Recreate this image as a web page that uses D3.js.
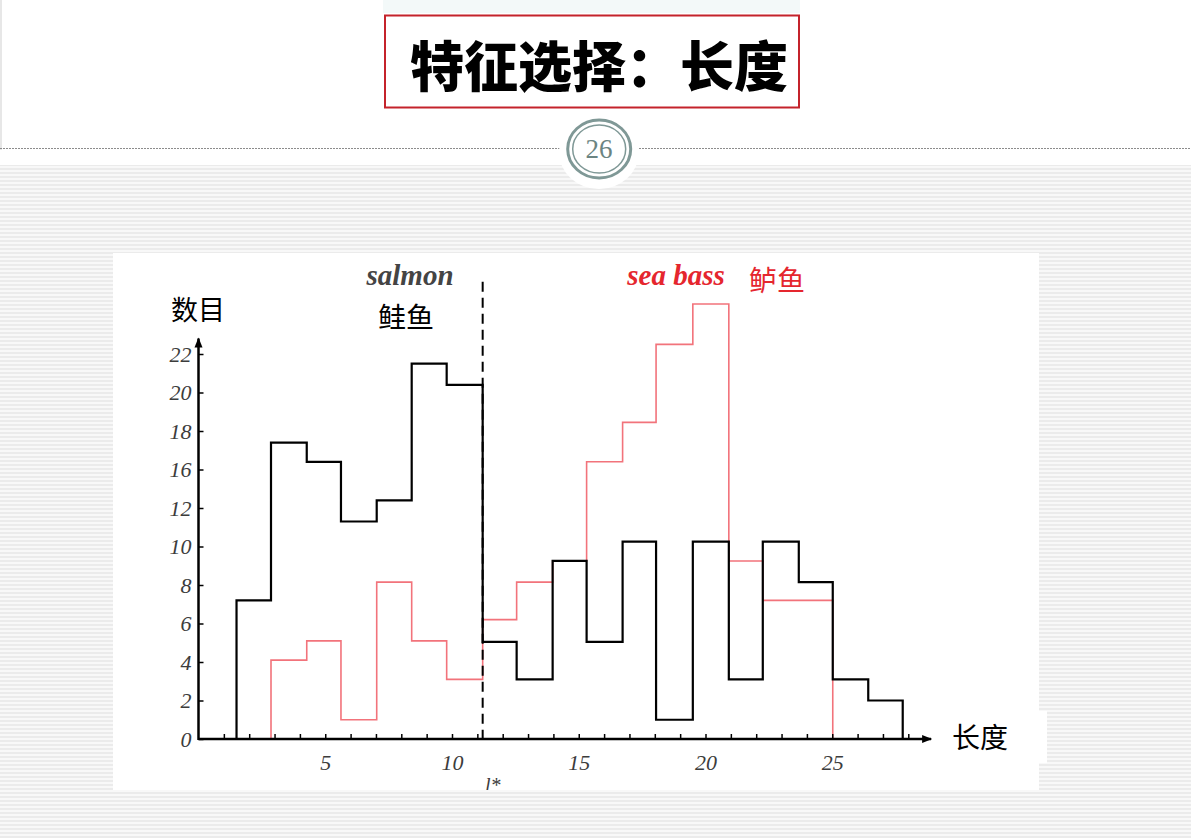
<!DOCTYPE html>
<html>
<head>
<meta charset="utf-8">
<script src="https://cdn.jsdelivr.net/npm/d3@7"></script>
<style>
body { margin: 0; background: #fff; }
</style>
</head>
<body>
<div id="slide"></div>
<script>
// bin edges and counts (length units / count units)
var binEdges = [1.5, 2.86, 4.27, 5.62, 7.03, 8.41, 9.79, 11.21, 12.55, 13.97, 15.31, 16.73, 18.05, 19.5, 20.92, 22.26, 23.68, 25.02, 26.42, 27.78];
var salmonCounts = [7.2, 15.4, 14.4, 11.3, 12.4, 19.5, 18.4, 5.05, 3.1, 9.25, 5.05, 10.25, 1.0, 10.25, 3.1, 10.25, 8.15, 3.1, 2.0];
var seaBassCounts = [null, 4.1, 5.1, 1.0, 8.15, 5.1, 3.1, 6.2, 8.15, 9.25, 14.4, 16.45, 20.5, 22.6, 9.25, 7.2, 7.2, null, null];

var xMinorTicks = [1, 2, 3, 4, 5, 6, 7, 8, 9, 10, 11, 12, 13, 14, 15, 16, 17, 18, 19, 20, 21, 22, 23, 24, 25, 26, 27, 28];
var xTickLabels = [5, 10, 15, 20, 25];
var yTickValues = [0, 2, 4, 6, 8, 10, 12, 14, 16, 18, 20];
var yTickLabels = ["0", "2", "4", "6", "8", "10", "12", "16", "18", "20", "22"];

var threshold = 11.21;   // l*
var xAxisEnd = 28.9;
var yAxisEnd = 20.8;
var dashTop = 23.75;

var W = 1191, H = 838;
var serif = "'Liberation Serif', 'DejaVu Serif', serif";
var cjk = "'Noto Sans CJK SC', sans-serif";
var redLine = "#f2737b";
var redText = "#e5262e";

var svg = d3.select("#slide")
  .append("svg")
  .attr("width", W)
  .attr("height", H);

// ---- slide background ----
var defs = svg.append("defs");
var pat = defs.append("pattern")
  .attr("id", "stripes")
  .attr("patternUnits", "userSpaceOnUse")
  .attr("width", 8)
  .attr("height", 4);
pat.append("rect").attr("width", 8).attr("height", 4).attr("fill", "#f8f8f8");
pat.append("rect").attr("width", 8).attr("height", 2).attr("fill", "#ebebeb");

svg.append("rect")
  .attr("width", W)
  .attr("height", H)
  .attr("fill", "#fff");

svg.append("rect")
  .attr("x", 0)
  .attr("y", 165)
  .attr("width", W)
  .attr("height", H - 165)
  .attr("fill", "url(#stripes)");

svg.append("line")
  .attr("x1", 1).attr("x2", 1)
  .attr("y1", 0).attr("y2", 150)
  .attr("stroke", "#cfcfcf")
  .attr("stroke-width", 1);

svg.append("rect")
  .attr("x", 383)
  .attr("y", 0)
  .attr("width", 417)
  .attr("height", 13)
  .attr("fill", "#f3f9f9");

// title box
svg.append("rect")
  .attr("x", 385)
  .attr("y", 15.5)
  .attr("width", 414)
  .attr("height", 92)
  .attr("fill", "#fff")
  .attr("stroke", "#c4232b")
  .attr("stroke-width", 2);

svg.append("text")
  .attr("x", 599)
  .attr("y", 87)
  .attr("text-anchor", "middle")
  .attr("font-family", cjk)
  .attr("font-weight", 900)
  .style("font-size", "54px")
  .attr("fill", "#000")
  .text("特征选择：长度");

// dotted divider + page badge
svg.append("line")
  .attr("x1", 0).attr("x2", W)
  .attr("y1", 148.5).attr("y2", 148.5)
  .attr("stroke", "#8c8c8c")
  .attr("stroke-width", 1)
  .attr("stroke-dasharray", "2,1");

svg.append("ellipse")
  .attr("cx", 599).attr("cy", 152)
  .attr("rx", 40).attr("ry", 37)
  .attr("fill", "#fff");

svg.append("ellipse")
  .attr("cx", 599.2).attr("cy", 149)
  .attr("rx", 31.5).attr("ry", 29)
  .attr("fill", "#fff")
  .attr("stroke", "#7f9896")
  .attr("stroke-width", 3);

svg.append("ellipse")
  .attr("cx", 599.2).attr("cy", 149)
  .attr("rx", 26.5).attr("ry", 24)
  .attr("fill", "none")
  .attr("stroke", "#7f9896")
  .attr("stroke-width", 1.5);

svg.append("text")
  .attr("x", 599)
  .attr("y", 158)
  .attr("text-anchor", "middle")
  .attr("font-family", serif)
  .style("font-size", "27px")
  .attr("fill", "#6b8482")
  .text("26");

// ---- chart panel ----
svg.append("rect")
  .attr("x", 113)
  .attr("y", 253)
  .attr("width", 926)
  .attr("height", 537)
  .attr("fill", "#fff");

svg.append("rect")
  .attr("x", 937)
  .attr("y", 711)
  .attr("width", 110)
  .attr("height", 52)
  .attr("fill", "#fff");

defs.append("clipPath")
  .attr("id", "panel-clip")
  .append("rect")
  .attr("x", 113)
  .attr("y", 253)
  .attr("width", 926)
  .attr("height", 537);

var x = d3.scaleLinear()
  .domain([0, 28])
  .range([198.5, 198.5 + 28 * 25.35]);

var y = d3.scaleLinear()
  .domain([0, 20])
  .range([739, 354]);

var g = svg.append("g")
  .attr("clip-path", "url(#panel-clip)");

function stepPoints(counts) {
  var first = counts.findIndex(function(c) { return c != null; });
  var last = counts.length - 1;
  while (counts[last] == null) last--;
  var pts = [[binEdges[first], 0]];
  for (var i = first; i <= last; i++) {
    pts.push([binEdges[i], counts[i]]);
  }
  pts.push([binEdges[last + 1], 0]);
  return pts;
}

var step = d3.line()
  .x(function(d) { return x(d[0]); })
  .y(function(d) { return y(d[1]); })
  .curve(d3.curveStepAfter);

g.append("path")
  .attr("d", step(stepPoints(seaBassCounts)))
  .attr("fill", "none")
  .attr("stroke", redLine)
  .attr("stroke-width", 1.6);

g.append("path")
  .attr("d", step(stepPoints(salmonCounts)))
  .attr("fill", "none")
  .attr("stroke", "#000")
  .attr("stroke-width", 2.2);

// decision threshold
g.append("line")
  .attr("x1", x(threshold)).attr("x2", x(threshold))
  .attr("y1", y(dashTop)).attr("y2", y(-0.35))
  .attr("stroke", "#000")
  .attr("stroke-width", 2)
  .attr("stroke-dasharray", "10,6");

// axes
var xAxis = d3.axisBottom(x)
  .tickValues(xMinorTicks)
  .tickSize(-5)
  .tickPadding(15)
  .tickFormat(function(d) { return xTickLabels.indexOf(d) >= 0 ? d : ""; });

g.append("g")
  .attr("transform", "translate(0," + y(0) + ")")
  .call(xAxis)
  .call(function(a) { a.select(".domain").remove(); })
  .call(function(a) {
    a.selectAll("line").attr("stroke", "#000").attr("stroke-width", 1.5);
    a.selectAll("text")
      .attr("font-family", serif)
      .attr("font-style", "italic")
      .style("font-size", "22px")
      .attr("fill", "#3c3c3c");
  });

var yAxis = d3.axisLeft(y)
  .tickValues(yTickValues)
  .tickSize(-5)
  .tickPadding(7)
  .tickFormat(function(d, i) { return yTickLabels[i]; });

g.append("g")
  .attr("transform", "translate(" + x(0) + ",0)")
  .call(yAxis)
  .call(function(a) { a.select(".domain").remove(); })
  .call(function(a) {
    a.selectAll("line").attr("stroke", "#000").attr("stroke-width", 1.5);
    a.selectAll("text")
      .attr("font-family", serif)
      .attr("font-style", "italic")
      .style("font-size", "22px")
      .attr("fill", "#3c3c3c");
  });

defs.append("marker")
  .attr("id", "arrow")
  .attr("viewBox", "0 0 10 10")
  .attr("refX", 9)
  .attr("refY", 5)
  .attr("markerWidth", 5)
  .attr("markerHeight", 4)
  .attr("orient", "auto")
  .attr("markerUnits", "strokeWidth")
  .append("path")
  .attr("d", "M 0 1 L 10 5 L 0 9 Z")
  .attr("fill", "#000");

svg.append("line")
  .attr("x1", x(0)).attr("x2", x(xAxisEnd))
  .attr("y1", y(0)).attr("y2", y(0))
  .attr("stroke", "#000")
  .attr("stroke-width", 2.5)
  .attr("marker-end", "url(#arrow)");

svg.append("line")
  .attr("x1", x(0)).attr("x2", x(0))
  .attr("y1", y(0) + 1).attr("y2", y(yAxisEnd))
  .attr("stroke", "#000")
  .attr("stroke-width", 2.5)
  .attr("marker-end", "url(#arrow)");

// labels
g.append("text")
  .attr("x", 485)
  .attr("y", 792)
  .attr("font-family", serif)
  .attr("font-style", "italic")
  .style("font-size", "20px")
  .attr("fill", "#3c3c3c")
  .text("l*");

svg.append("text")
  .attr("x", 171)
  .attr("y", 320)
  .attr("font-family", cjk)
  .style("font-size", "27px")
  .attr("fill", "#000")
  .text("数目");

svg.append("text")
  .attr("x", 952)
  .attr("y", 748)
  .attr("font-family", cjk)
  .style("font-size", "28px")
  .attr("fill", "#000")
  .text("长度");

svg.append("text")
  .attr("x", 410)
  .attr("y", 285)
  .attr("text-anchor", "middle")
  .attr("font-family", serif)
  .attr("font-style", "italic")
  .attr("font-weight", "bold")
  .style("font-size", "29px")
  .attr("fill", "#444")
  .text("salmon");

svg.append("text")
  .attr("x", 406)
  .attr("y", 328)
  .attr("text-anchor", "middle")
  .attr("font-family", cjk)
  .style("font-size", "28px")
  .attr("fill", "#000")
  .text("鲑鱼");

svg.append("text")
  .attr("x", 676)
  .attr("y", 285)
  .attr("text-anchor", "middle")
  .attr("font-family", serif)
  .attr("font-style", "italic")
  .attr("font-weight", "bold")
  .style("font-size", "29px")
  .attr("fill", redText)
  .text("sea bass");

svg.append("text")
  .attr("x", 777)
  .attr("y", 291)
  .attr("text-anchor", "middle")
  .attr("font-family", cjk)
  .style("font-size", "28px")
  .attr("fill", redText)
  .text("鲈鱼");
</script>
</body>
</html>
